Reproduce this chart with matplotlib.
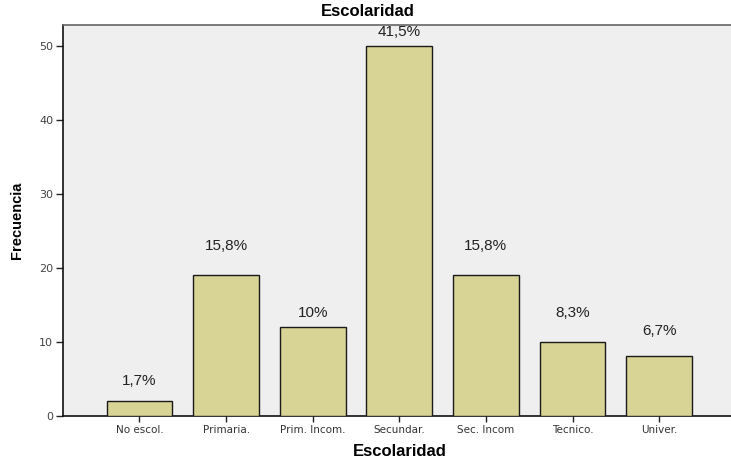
import matplotlib
matplotlib.use("Agg")
import matplotlib.pyplot as plt

categories = ["No escol.", "Primaria.", "Prim. Incom.", "Secundar.", "Sec. Incom", "Tecnico.", "Univer."]
frecuencias = [2, 19, 12, 50, 19, 10, 8]
porcentajes = ["1,7%", "15,8%", "10%", "41,5%", "15,8%", "8,3%", "6,7%"]
yticks = [0, 10, 20, 30, 40, 50]

# vertical gap (in points) between each bar top and its percentage label
label_gap = [14, 21, 10, 10, 21, 21, 18]

plt.rcParams["font.family"] = ["Liberation Sans", "DejaVu Sans"]

fig = plt.figure(figsize=(7.31, 4.63), dpi=100)
fig.patch.set_facecolor("white")
ax = fig.add_axes([0.0862, 0.1022, 0.9138, 0.8438])
ax.set_facecolor("#efefef")

x = list(range(len(categories)))
ax.bar(x, frecuencias, width=0.76, color="#d8d496", edgecolor="#1a1a1a", linewidth=1.0, zorder=3)

for xi, v, lab, g in zip(x, frecuencias, porcentajes, label_gap):
    ax.annotate(lab, (xi, v), xytext=(0, g), textcoords="offset points",
                ha="center", va="center", fontsize=11, color="#222222")

ax.set_xlim(-0.883, 6.83)
ax.set_ylim(0, 52.8)
ax.set_yticks(yticks)
ax.set_yticklabels([str(t) for t in yticks], fontsize=8, color="#444444", family="DejaVu Sans")
ax.set_xticks(x)
ax.set_xticklabels(categories, fontsize=7.5, color="#333333", family="DejaVu Sans")
ax.tick_params(axis="y", length=5, width=1, color="#222222", pad=2)
ax.tick_params(axis="x", length=4, width=1, color="#222222", pad=3)

for side in ("left", "bottom"):
    ax.spines[side].set_color("#111111")
    ax.spines[side].set_linewidth(1.2)
ax.spines["top"].set_color("#666666")
ax.spines["top"].set_linewidth(1.2)
ax.spines["right"].set_visible(False)

ax.set_ylabel("Frecuencia", fontsize=10.5, fontweight="bold")
ax.yaxis.set_label_coords(-0.058, 0.5)
ax.set_xlabel("Escolaridad", fontsize=12, fontweight="bold")
ax.xaxis.set_label_coords((400 - 63) / 668, -(444 - 415.7) / 390.7)
fig.text(368 / 731, 1 - 12 / 463, "Escolaridad", ha="center", va="center",
         fontsize=12, fontweight="bold")

fig.savefig("out.png", dpi=100)
